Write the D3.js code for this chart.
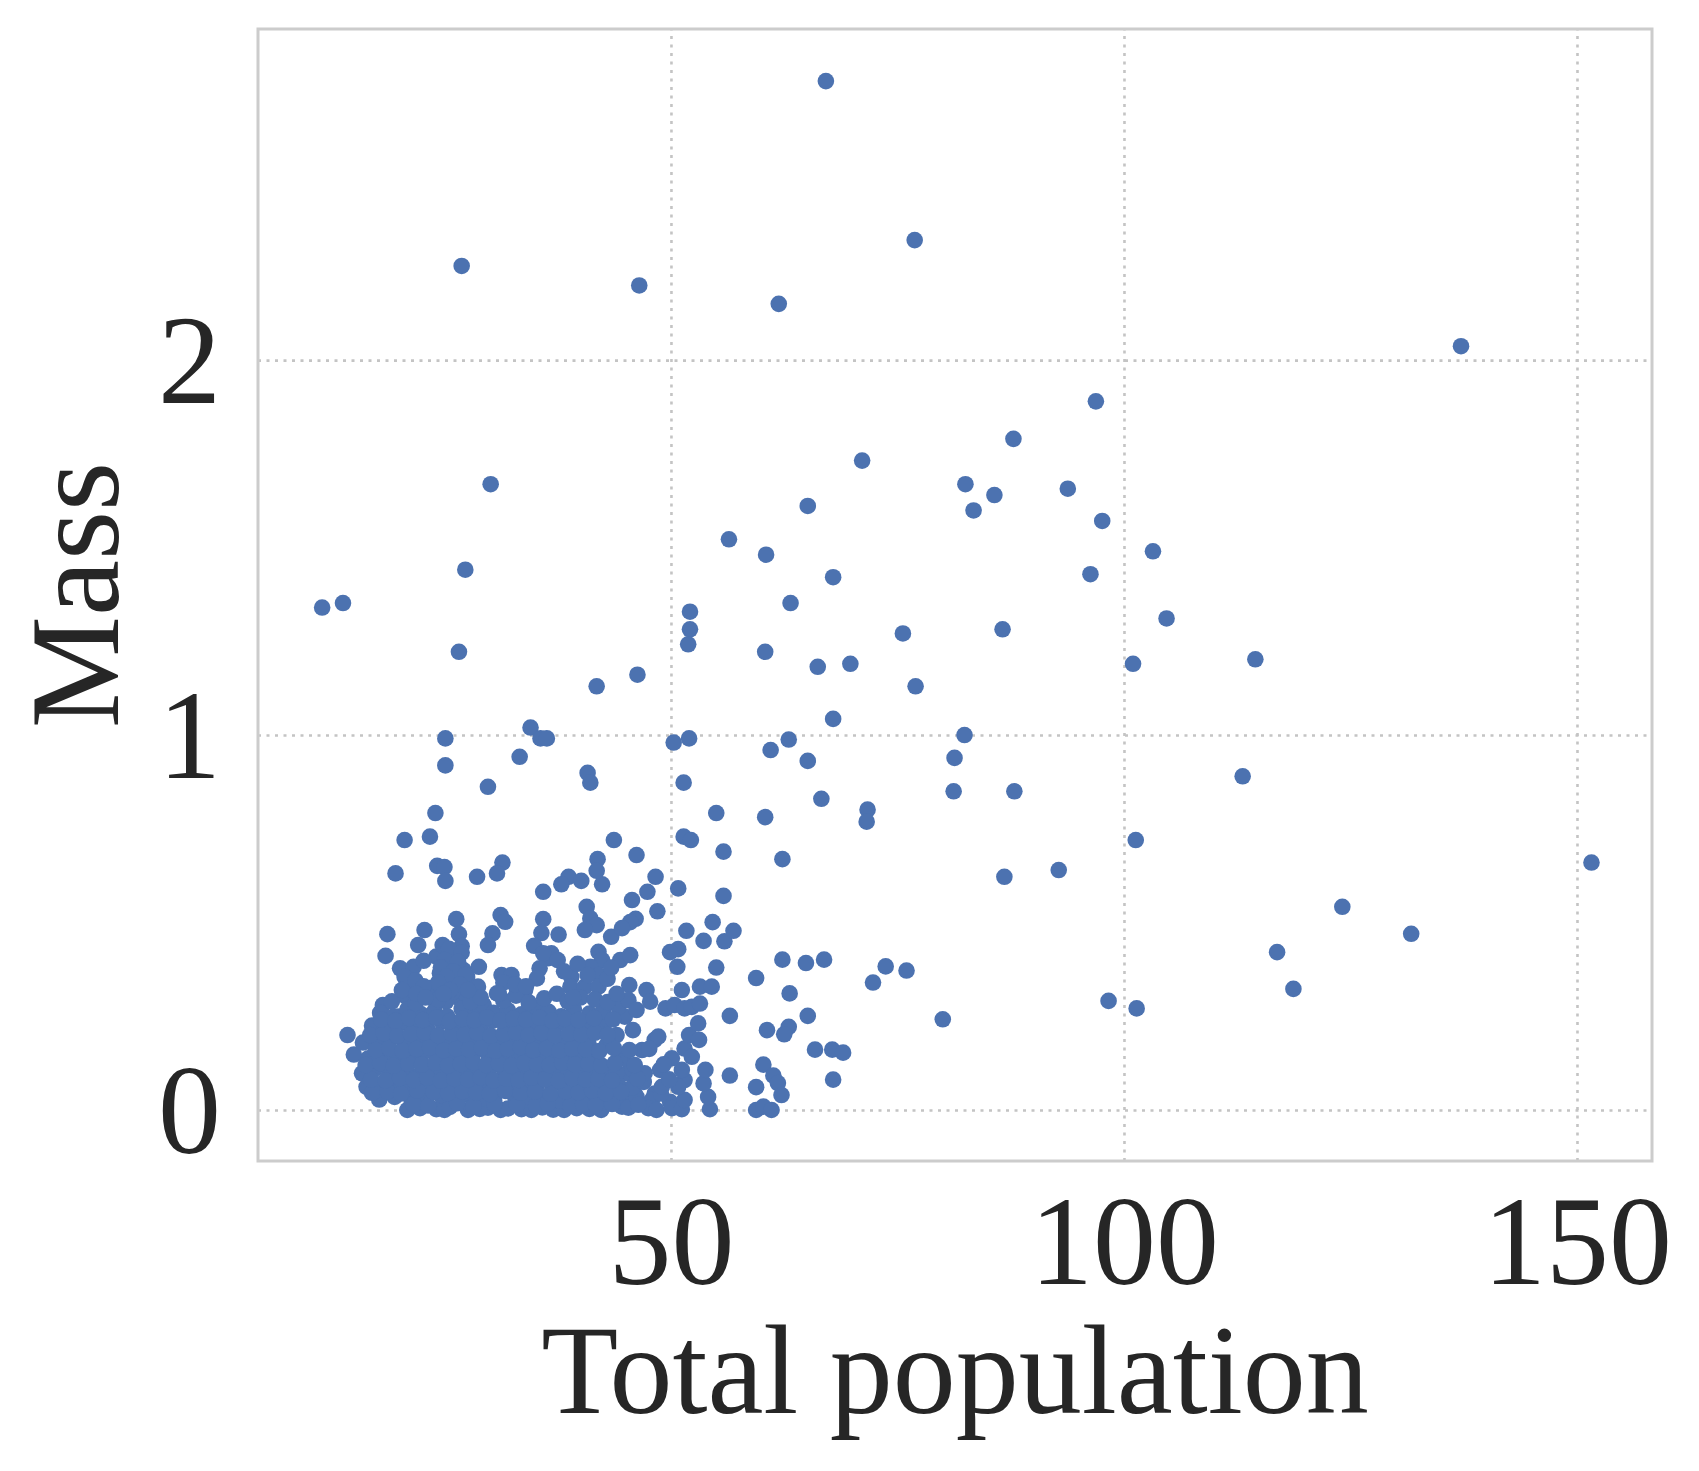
<!DOCTYPE html>
<html>
<head>
<meta charset="utf-8">
<script src="https://cdn.jsdelivr.net/npm/d3@7"></script>
<style>
  body { margin: 0; background: #fff; }
</style>
</head>
<body>
<svg id="chart"></svg>
<script>
(function() {

// ---- data ----
var xTicks = [50, 100, 150];
var yTicks = [0, 1, 2];

// scattered points, upper part
var popA = [
  67.1, 76.9, 26.9, 46.5, 61.9, 137.2, 96.9, 87.8, 71.1, 30.1,
  82.5, 93.8, 85.7, 65.1, 83.4, 97.6, 56.4, 103.2, 60.5, 27.3,
  96.3, 67.9, 11.5, 13.8, 63.2, 52.1, 104.7, 52.1, 75.6, 86.6,
  51.9, 26.6, 60.4, 114.5, 69.8, 101.0, 66.2, 46.3, 41.8, 77.0,
  67.9, 34.5, 35.6, 36.3, 25.1, 82.4, 52.0, 50.3, 63.0, 61.0,
  33.3, 81.3, 65.1, 25.1, 40.8, 41.1, 51.4, 29.8, 81.2, 87.9,
  113.1, 66.6, 55.0, 71.7, 60.4, 71.6, 24.0, 23.4, 20.6, 43.7,
  51.4, 52.2, 101.3, 55.8, 46.2, 41.9, 62.3, 151.6, 24.2, 25.0,
  31.4, 92.8, 19.6, 28.6, 30.8, 86.8, 25.1, 38.7, 40.1, 42.4,
  48.3, 37.9, 35.9, 47.4, 50.8, 124.1, 131.7, 116.9, 118.7, 98.3
];
var massA = [
  2.744, 2.320, 2.251, 2.199, 2.150, 2.037, 1.890, 1.790, 1.732, 1.669,
  1.669, 1.657, 1.640, 1.611, 1.599, 1.571, 1.522, 1.490, 1.481, 1.441,
  1.429, 1.421, 1.340, 1.352, 1.352, 1.329, 1.311, 1.282, 1.271, 1.282,
  1.242, 1.222, 1.222, 1.202, 1.190, 1.190, 1.182, 1.161, 1.130, 1.130,
  1.043, 1.020, 0.991, 0.991, 0.991, 1.000, 0.991, 0.980, 0.988, 0.960,
  0.942, 0.939, 0.931, 0.919, 0.899, 0.873, 0.873, 0.862, 0.850, 0.850,
  0.890, 0.830, 0.792, 0.801, 0.781, 0.769, 0.792, 0.729, 0.720, 0.720,
  0.729, 0.720, 0.720, 0.689, 0.680, 0.669, 0.669, 0.660, 0.651, 0.648,
  0.660, 0.640, 0.631, 0.622, 0.631, 0.622, 0.611, 0.622, 0.611, 0.602,
  0.622, 0.602, 0.582, 0.582, 0.591, 0.542, 0.470, 0.421, 0.323, 0.291
];

// right / lower scattered points
var popB = [
  101.4, 80.0, 72.3, 73.7, 76.0, 66.9, 64.9, 62.3, 59.4, 63.1,
  65.1, 63.0, 60.6, 62.5, 65.9, 67.8, 69.0, 67.9, 60.2, 61.3,
  61.8, 59.4, 62.2, 59.4, 60.2, 61.1, 56.5, 56.5, 55.9, 56.9,
  55.8, 54.6, 55.0, 51.7, 50.8, 49.9, 48.5, 46.1, 45.5, 41.8
];
var massB = [
  0.271, 0.242, 0.340, 0.383, 0.372, 0.401, 0.392, 0.401, 0.352, 0.311,
  0.251, 0.222, 0.213, 0.202, 0.161, 0.161, 0.153, 0.081, 0.121, 0.092,
  0.072, 0.061, 0.040, 0.000, 0.009, 0.000, 0.092, 0.251, 0.450, 0.478,
  0.571, 0.501, 0.380, 0.478, 0.429, 0.421, 0.530, 0.510, 0.501, 0.638
];

// edge of the dense cluster
var popC = [
  45.7, 40.7, 41.1, 41.8, 40.5, 37.6, 43.4, 53.6, 36.5, 36.8,
  42.0, 42.4, 41.1, 42.0, 44.4, 45.5, 50.7, 39.0, 38.9, 40.5,
  42.0, 45.4, 47.3, 47.7, 51.2, 53.2, 54.5, 44.6, 46.8, 51.5,
  51.5, 49.9, 48.2, 47.9, 46.4, 46.0, 44.6, 45.1, 26.3, 26.6,
  26.9, 31.2, 31.7, 30.3, 29.8, 35.9, 35.7, 34.9, 18.7, 22.8,
  22.1, 18.5, 24.1, 25.4, 26.2, 20.1, 21.6, 22.7, 28.8, 27.1,
  27.5, 28.7, 31.3, 32.4, 33.9, 33.0, 30.8, 35.9, 35.5, 35.2,
  21.0, 20.8, 23.4, 24.5, 25.6, 18.2, 19.9, 29.3, 14.3, 24.8,
  25.9, 26.5, 25.2, 23.9, 27.5, 22.2
];
var massC = [
  0.560, 0.542, 0.511, 0.493, 0.480, 0.468, 0.462, 0.451, 0.405, 0.418,
  0.422, 0.400, 0.382, 0.360, 0.400, 0.413, 0.382, 0.355, 0.329, 0.329,
  0.329, 0.333, 0.320, 0.289, 0.320, 0.329, 0.329, 0.485, 0.160, 0.164,
  0.080, 0.022, 0.044, 0.027, 0.018, 0.044, 0.035, 0.098, 0.509, 0.469,
  0.437, 0.520, 0.502, 0.471, 0.440, 0.509, 0.472, 0.438, 0.469, 0.480,
  0.440, 0.411, 0.409, 0.427, 0.413, 0.378, 0.382, 0.398, 0.382, 0.373,
  0.355, 0.329, 0.360, 0.360, 0.320, 0.325, 0.311, 0.418, 0.378, 0.351,
  0.333, 0.302, 0.325, 0.365, 0.392, 0.280, 0.249, 0.280, 0.200, 0.340,
  0.350, 0.300, 0.290, 0.295, 0.300, 0.305
];

// dense cluster near the bottom, one line per band
var popD = [
  20.9, 22.3, 24.1, 25.0, 25.6, 27.6, 28.9, 29.8, 31.2, 32.0, 33.5, 34.6, 35.8, 37.0, 38.2, 39.6, 41.0, 42.3, 44.6, 45.3, 47.5, 48.4, 50.1, 51.2, 54.3,
  17.8, 19.5, 21.4, 23.0, 24.6, 26.3, 27.8, 29.2, 30.5, 32.8, 34.2, 36.3, 37.7, 39.1, 40.4, 41.9, 43.4, 46.2, 48.9, 51.5, 54.1,
  16.4, 18.0, 19.8, 21.0, 22.5, 24.0, 25.3, 26.8, 28.1, 29.6, 31.0, 32.3, 33.9, 35.2, 36.9, 38.4, 39.8, 41.2, 42.7, 44.2, 45.7, 47.0, 49.0, 50.8, 53.6,
  15.9, 17.3, 18.9, 20.4, 21.9, 23.3, 24.8, 26.0, 27.4, 28.7, 30.0, 31.6, 33.0, 34.4, 35.7, 37.2, 38.7, 40.0, 41.5, 43.0, 44.0, 45.8, 47.1, 48.8, 51.2, 53.8,
  15.0, 16.6, 18.2, 19.6, 21.1, 22.6, 24.2, 25.6, 27.0, 28.3, 29.9, 31.3, 32.7, 34.0, 35.5, 37.0, 38.3, 39.7, 41.3, 42.9, 44.7, 50.1, 52.3,
  16.0, 17.5, 19.0, 20.6, 22.0, 23.5, 25.0, 26.5, 27.9, 29.4, 30.8, 32.1, 33.6, 35.0, 36.4, 38.0, 39.4, 40.9, 44.0, 45.8, 48.2, 48.6, 52.0, 53.1,
  17.0, 18.6, 20.2, 21.7, 23.2, 24.7, 26.1, 27.6, 29.0, 30.3, 31.9, 33.3, 34.7, 36.2, 37.6, 39.0, 40.5, 42.0, 43.1, 44.9, 53.0,
  17.9, 19.4, 20.9, 22.4, 23.9, 25.3, 26.9, 28.4, 29.3, 30.4, 32.0, 33.5, 35.0, 36.5, 37.9, 39.3, 41.0, 42.5, 44.2, 45.3, 46.2, 49.4, 50.4, 51.5, 52.3, 53.2
];
var massD = [
  0.000, 0.005, 0.002, 0.000, 0.008, 0.000, 0.003, 0.006, 0.000, 0.004, 0.002, 0.000, 0.007, 0.001, 0.000, 0.005, 0.003, 0.000, 0.009, 0.006, 0.005, 0.000, 0.005, 0.002, 0.002,
  0.028, 0.035, 0.022, 0.031, 0.040, 0.026, 0.038, 0.030, 0.024, 0.036, 0.029, 0.033, 0.025, 0.040, 0.030, 0.034, 0.027, 0.035, 0.044, 0.027, 0.035,
  0.062, 0.055, 0.070, 0.058, 0.066, 0.052, 0.072, 0.060, 0.055, 0.068, 0.061, 0.074, 0.057, 0.065, 0.070, 0.058, 0.062, 0.071, 0.055, 0.066, 0.060, 0.075, 0.062, 0.062, 0.071,
  0.098, 0.110, 0.094, 0.105, 0.090, 0.108, 0.100, 0.115, 0.092, 0.103, 0.112, 0.096, 0.107, 0.099, 0.113, 0.094, 0.104, 0.110, 0.097, 0.106, 0.098, 0.107, 0.098, 0.107, 0.107, 0.107,
  0.148, 0.138, 0.150, 0.142, 0.135, 0.152, 0.140, 0.147, 0.133, 0.155, 0.143, 0.138, 0.150, 0.145, 0.136, 0.152, 0.141, 0.148, 0.137, 0.173, 0.138, 0.138, 0.142,
  0.180, 0.172, 0.188, 0.176, 0.192, 0.182, 0.170, 0.190, 0.178, 0.185, 0.174, 0.194, 0.180, 0.187, 0.171, 0.190, 0.183, 0.176, 0.200, 0.213, 0.187, 0.196, 0.200, 0.187,
  0.225, 0.215, 0.232, 0.220, 0.212, 0.235, 0.222, 0.228, 0.214, 0.238, 0.221, 0.230, 0.216, 0.226, 0.234, 0.218, 0.229, 0.222, 0.240, 0.249, 0.231,
  0.259, 0.249, 0.268, 0.256, 0.264, 0.250, 0.270, 0.258, 0.280, 0.259, 0.266, 0.255, 0.272, 0.262, 0.250, 0.268, 0.257, 0.264, 0.275, 0.293, 0.267, 0.271, 0.280, 0.271, 0.275, 0.284
];

// in-between bands of the dense cluster
var popE = [
  21.6, 23.2, 26.4, 28.2, 30.5, 33.0, 35.1, 36.4, 38.9, 40.3, 41.7, 43.5, 46.4,
  17.0, 18.7, 20.2, 22.0, 23.8, 25.4, 27.0, 28.5, 30.0, 31.7, 33.4, 35.0, 36.7, 38.4, 39.8, 41.3, 42.8, 44.5,
  16.9, 18.5, 20.1, 21.6, 23.1, 24.6, 26.1, 27.6, 29.0, 30.4, 31.8, 33.2, 34.6, 36.1, 37.6, 39.1, 40.6, 42.0, 43.5, 46.3, 49.8,
  16.3, 17.9, 19.4, 21.0, 22.5, 24.0, 25.4, 26.8, 28.2, 29.6, 31.0, 32.4, 33.8, 35.2, 36.6, 38.0, 39.4, 40.9, 42.3, 43.8, 46.0, 49.2,
  17.4, 18.9, 20.4, 21.9, 23.4, 24.9, 26.3, 27.7, 29.1, 30.6, 32.0, 33.4, 34.8, 36.3, 37.7, 39.1, 40.6, 42.1, 43.7, 45.4, 47.6,
  16.8, 18.3, 19.8, 21.3, 22.8, 24.3, 25.8, 27.2, 28.6, 30.1, 31.5, 32.9, 34.3, 35.7, 37.2, 38.7, 40.1, 41.6, 43.0,
  18.0, 19.6, 21.1, 22.6, 24.1, 25.6, 27.0, 28.3, 29.7, 31.2, 32.6, 34.0, 35.5, 36.9, 38.3, 39.8, 41.5, 43.6,
  19.2, 21.8, 23.0, 24.3, 25.9, 27.9, 29.0, 31.5, 32.9, 34.3, 36.0, 37.4, 38.6, 40.0, 41.6, 43.0
];
var massE = [
  0.015, 0.012, 0.018, 0.010, 0.016, 0.014, 0.012, 0.017, 0.011, 0.015, 0.013, 0.016, 0.014,
  0.046, 0.050, 0.044, 0.052, 0.048, 0.045, 0.050, 0.047, 0.043, 0.051, 0.046, 0.049, 0.044, 0.050, 0.047, 0.052, 0.045, 0.048,
  0.082, 0.079, 0.085, 0.080, 0.086, 0.078, 0.083, 0.081, 0.087, 0.079, 0.084, 0.080, 0.086, 0.082, 0.078, 0.085, 0.081, 0.083, 0.079, 0.084, 0.082,
  0.120, 0.125, 0.118, 0.124, 0.121, 0.126, 0.119, 0.123, 0.127, 0.120, 0.124, 0.118, 0.125, 0.122, 0.120, 0.126, 0.121, 0.123, 0.119, 0.125, 0.120, 0.122,
  0.160, 0.165, 0.158, 0.163, 0.167, 0.159, 0.164, 0.161, 0.166, 0.158, 0.163, 0.168, 0.160, 0.165, 0.159, 0.164, 0.162, 0.157, 0.165, 0.160, 0.163,
  0.200, 0.205, 0.198, 0.203, 0.207, 0.199, 0.204, 0.201, 0.206, 0.198, 0.203, 0.207, 0.200, 0.205, 0.199, 0.204, 0.202, 0.206, 0.200,
  0.242, 0.238, 0.245, 0.240, 0.246, 0.237, 0.243, 0.240, 0.247, 0.239, 0.244, 0.241, 0.246, 0.238, 0.243, 0.240, 0.245, 0.242,
  0.290, 0.285, 0.310, 0.295, 0.315, 0.288, 0.300, 0.292, 0.305, 0.287, 0.298, 0.310, 0.290, 0.300, 0.295, 0.288
];

// columns rising above the cluster
var popF = [
  24.8, 25.5, 26.9, 25.0, 26.5, 24.6, 26.0, 27.3, 25.2, 24.3, 26.7, 25.6, 27.6, 24.9,
  20.6, 21.8, 22.7, 20.3, 21.9, 22.9,
  31.5, 32.8, 34.0, 31.0,
  37.5, 38.2, 39.7, 40.8, 43.0, 44.0, 43.4, 39.2
];
var massF = [
  0.440, 0.430, 0.420, 0.400, 0.395, 0.380, 0.370, 0.360, 0.355, 0.340, 0.335, 0.320, 0.320, 0.310,
  0.355, 0.345, 0.330, 0.320, 0.310, 0.300,
  0.340, 0.335, 0.330, 0.310,
  0.400, 0.370, 0.390, 0.360, 0.350, 0.310, 0.380, 0.300
];

var totalPopulation = popA.concat(popB, popC, popD, popE, popF);
var mass = massA.concat(massB, massC, massD, massE, massF);
var points = d3.range(Math.min(totalPopulation.length, mass.length)).map(function(i) {
  return { pop: totalPopulation[i], mass: mass[i] };
});

// ---- layout ----
var full_width = 1699, full_height = 1471;
var left = 258, right = 1652, top = 29, bottom = 1161;
var fontFamily = "'Liberation Serif', 'Times New Roman', Times, serif";
var textColor = "#262626";

var svg = d3.select("#chart")
    .attr("width", full_width)
    .attr("height", full_height)
    .style("display", "block");

var x = d3.scaleLinear().domain([4.42, 158.28]).range([left, right]);
var y = d3.scaleLinear().domain([-0.136, 2.883]).range([bottom, top]);

// x axis + vertical grid
var gx = svg.append("g")
    .attr("transform", "translate(0," + bottom + ")")
    .call(d3.axisBottom(x)
      .tickValues(xTicks)
      .tickSize(-(bottom - top))
      .tickPadding(34)
      .tickFormat(d3.format("d")));

// y axis + horizontal grid
var gy = svg.append("g")
    .attr("transform", "translate(" + left + ",0)")
    .call(d3.axisLeft(y)
      .tickValues(yTicks)
      .tickSize(-(right - left))
      .tickPadding(37)
      .tickFormat(d3.format("d")));

[gx, gy].forEach(function(g) {
  g.select(".domain").remove();
  g.selectAll(".tick line")
      .attr("stroke", "#c4c4c4")
      .attr("stroke-width", 2.6)
      .attr("stroke-dasharray", "3,5.5");
  g.selectAll(".tick text")
      .attr("fill", textColor)
      .style("font-family", fontFamily)
      .style("font-size", "126px");
});
gy.selectAll(".tick text").attr("dy", "0.335em");

// points
svg.append("g")
  .selectAll("circle")
  .data(points)
  .enter().append("circle")
    .attr("cx", function(d) { return x(d.pop); })
    .attr("cy", function(d) { return y(d.mass); })
    .attr("r", 8.3)
    .attr("fill", "#4c72b0");

// frame
svg.append("rect")
    .attr("x", left)
    .attr("y", top)
    .attr("width", right - left)
    .attr("height", bottom - top)
    .attr("fill", "none")
    .attr("stroke", "#cccccc")
    .attr("stroke-width", 3);

// axis labels
svg.append("text")
    .attr("x", (left + right) / 2)
    .attr("y", 1413)
    .attr("text-anchor", "middle")
    .attr("fill", textColor)
    .style("font-family", fontFamily)
    .style("font-size", "126px")
    .text("Total population");

svg.append("text")
    .attr("transform", "translate(118," + (top + bottom) / 2 + ") rotate(-90)")
    .attr("text-anchor", "middle")
    .attr("fill", textColor)
    .style("font-family", fontFamily)
    .style("font-size", "126px")
    .text("Mass");

})();
</script>
</body>
</html>
